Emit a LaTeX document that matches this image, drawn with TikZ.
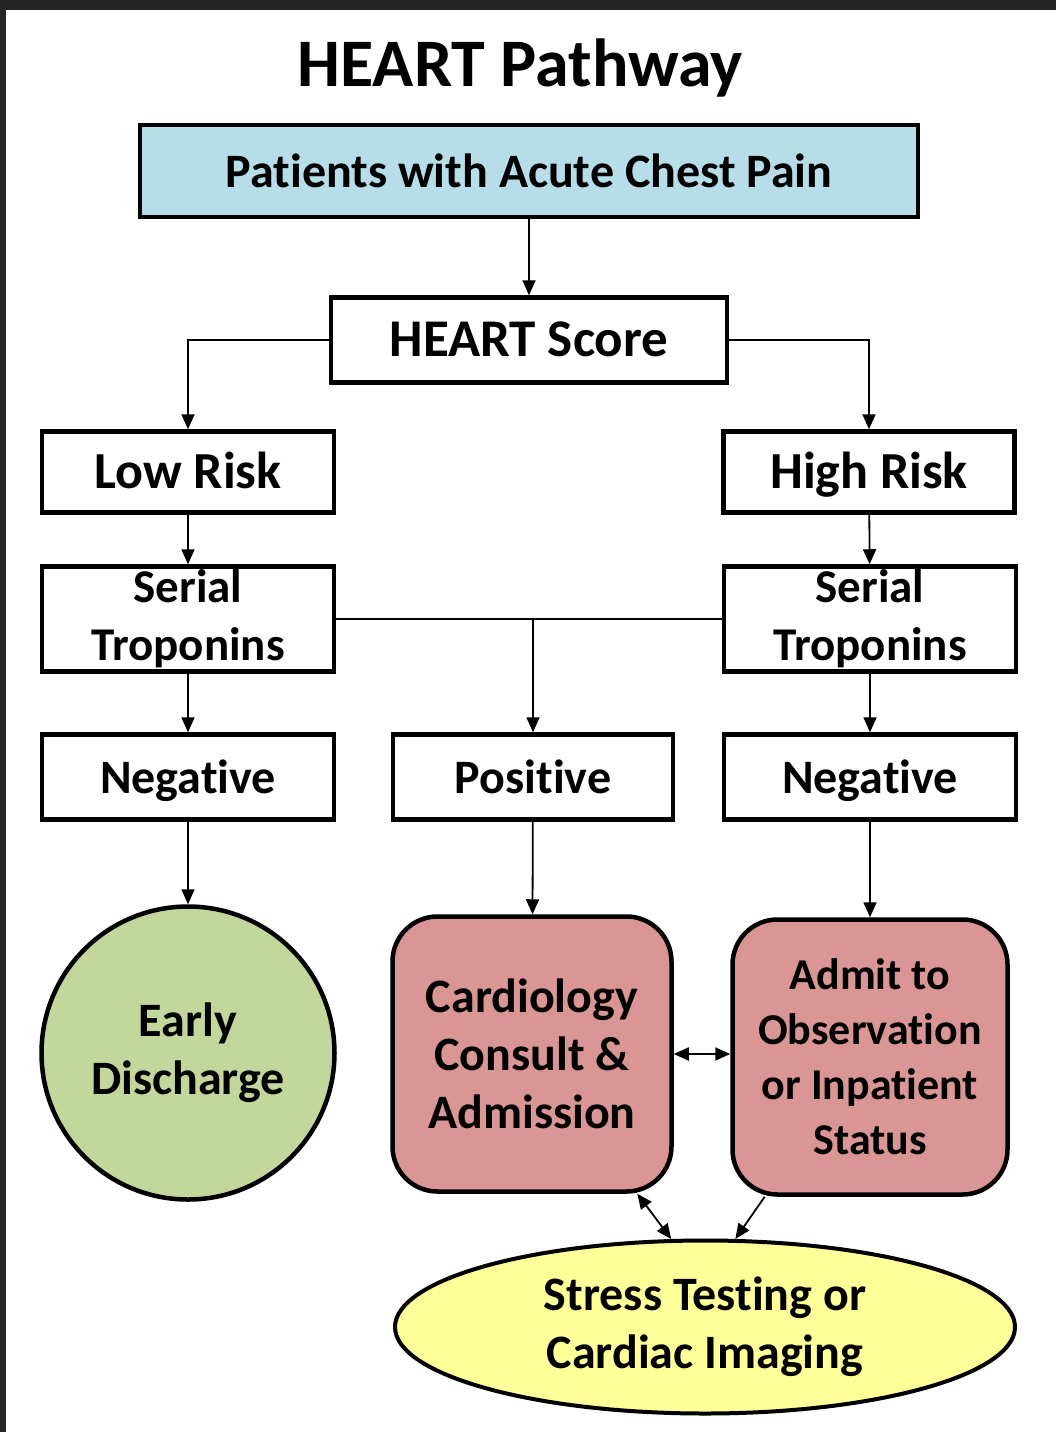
\documentclass[tikz,border=0pt]{standalone}
\usepackage{fontspec}
\setmainfont{Carlito}[Ligatures=NoCommon]
\usepackage{xcolor}
\usepackage{tikz}
\definecolor{chestblue}{RGB}{183,222,232}
\definecolor{consultred}{RGB}{217,150,148}
\definecolor{dischargegreen}{RGB}{195,214,155}
\definecolor{imagingyellow}{RGB}{255,255,153}
\definecolor{framegray}{RGB}{38,38,38}
\usetikzlibrary{shapes.geometric,arrows.meta,positioning,calc}

\begin{document}
\begin{tikzpicture}[
    x=1pt, y=-1pt,
    frame/.style={rectangle, draw=black, line width=4.5pt, fill=white, inner sep=0pt, font=\bfseries\fontsize{48}{58}\selectfont},
    onebox/.style={frame, text height=42pt, text depth=10pt},
    box/.style={frame, align=center},
    roundbox/.style={box, rounded corners=45pt, fill=consultred},
    conn/.style={draw=black, line width=1.8pt, -{Triangle[length=15pt, width=13pt]}},
    dconn/.style={conn, {Triangle[length=15pt, width=13pt]}-{Triangle[length=15pt, width=13pt]}},
    link/.style={draw=black, line width=1.8pt}
]
\useasboundingbox (0,0) rectangle (1056,1432);
\fill[white] (0,0) rectangle (1056,1432);
\fill[framegray] (0,0) rectangle (1056,10);
\fill[framegray] (0,0) rectangle (6,1432);

% title
\node (title) at (520,68) {\bfseries\fontsize{68}{70}\selectfont HEART Pathway};

% boxes
\node[onebox, fill=chestblue, minimum width=778pt, minimum height=92pt] (chest) at (529,171) {Patients with Acute Chest Pain};
\node[onebox, minimum width=396pt, minimum height=85pt, font=\bfseries\fontsize{53}{58}\selectfont] (score) at (529,340) {HEART Score};
\node[onebox, minimum width=292pt, minimum height=81pt, font=\bfseries\fontsize{52}{58}\selectfont] (lowrisk) at (188,472) {Low Risk};
\node[onebox, minimum width=291pt, minimum height=81pt, font=\bfseries\fontsize{52}{58}\selectfont] (highrisk) at (869,472) {High Risk};
\node[box, minimum width=292pt, minimum height=105pt, font=\bfseries\fontsize{47}{58}\selectfont] (serialL) at (188,619) {Serial\\Troponins};
\node[box, minimum width=292pt, minimum height=105pt, font=\bfseries\fontsize{47}{58}\selectfont] (serialR) at (870,619) {Serial\\Troponins};
\node[onebox, minimum width=292pt, minimum height=85pt] (negL) at (188,777) {Negative};
\node[onebox, minimum width=280pt, minimum height=85pt] (pos) at (533,777) {Positive};
\node[onebox, minimum width=292pt, minimum height=85pt] (negR) at (870,777) {Negative};

% outcomes
\node[box, circle, fill=dischargegreen, minimum size=293pt] (discharge) at (188,1053) {Early\\Discharge};
\node[roundbox, minimum width=279pt, minimum height=275pt] (consult) at (532,1054) {Cardiology\\Consult \&\\Admission};
\node[roundbox, minimum width=275pt, minimum height=275pt, font=\bfseries\fontsize{44}{55}\selectfont] (admit) at (870,1057) {Admit to\\Observation\\or Inpatient\\Status};
\node[box, ellipse, line width=4pt, fill=imagingyellow, minimum width=620pt, minimum height=173pt] (imaging) at (705,1327) {Stress Testing or\\Cardiac Imaging};

% connectors
\draw[conn] (chest) -- (score);
\draw[conn] (score.west) -| (lowrisk.north);
\draw[conn] (score.east) -| (highrisk.north);
\draw[conn] (lowrisk) -- (serialL);
\draw[conn] (highrisk) -- (serialR);
\draw[link] (serialL.east) -- (serialR.west);
\coordinate (split) at (pos.north |- serialL.east);
\draw[conn] (split) -- (pos);
\draw[conn] (serialL) -- (negL);
\draw[conn] (serialR) -- (negR);
\draw[conn] (negL) -- (discharge);
\draw[conn] (pos) -- (consult);
\draw[conn] (negR) -- (admit);
\draw[dconn] (consult.east) -- (consult.east -| admit.west);
\draw[dconn] (consult.-53) -- (imaging.111);
\draw[conn] (admit.-127) -- (imaging.71);

\end{tikzpicture}
\end{document}
